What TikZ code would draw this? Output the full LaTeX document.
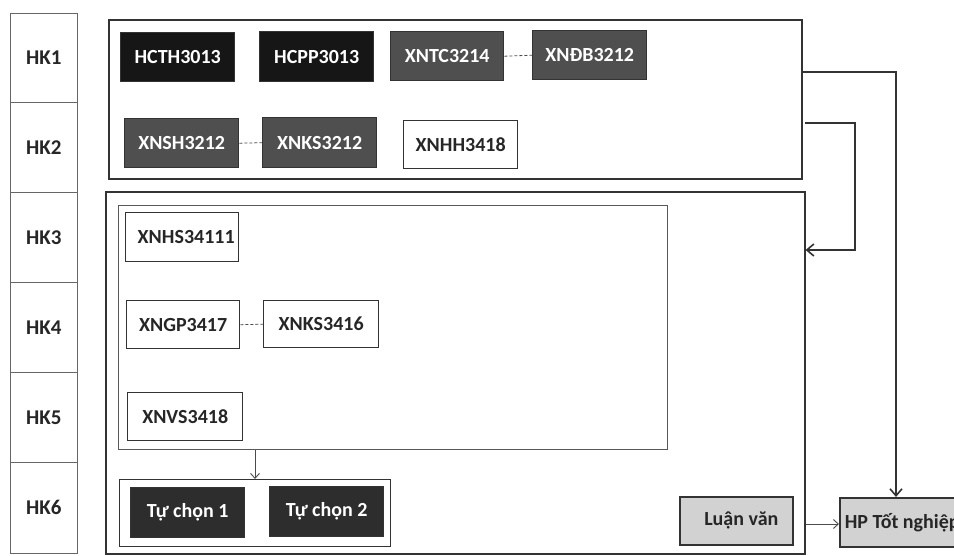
\documentclass[tikz,border=0pt]{standalone}
\usepackage{fontspec}
\setmainfont{Carlito}
\usetikzlibrary{arrows.meta}
\definecolor{inkc}{HTML}{262626}
\definecolor{blackbox}{HTML}{161616}
\definecolor{darkbox}{HTML}{4F4F4F}
\definecolor{lightbox}{HTML}{D2D2D2}
\definecolor{linec}{HTML}{333333}
\tikzset{
  base/.style={rectangle, anchor=north west, inner sep=0pt, font=\fontsize{20}{24}\selectfont\bfseries},
  hk/.style={base, draw=gray!80!black, line width=0.8pt, fill=white, text=inkc, minimum width=67pt, font=\fontsize{21}{24}\selectfont\bfseries},
  frame/.style={rectangle, anchor=north west, draw=linec, line width=1.6pt, inner sep=0pt},
  innerframe/.style={rectangle, anchor=north west, draw=gray!70!black, line width=1pt, inner sep=0pt},
  blk/.style={base, draw=linec, line width=1.4pt, fill=blackbox, text=white, minimum width=114pt, minimum height=49pt},
  drk/.style={base, draw=linec, line width=1.4pt, fill=darkbox, text=white, minimum width=114pt, minimum height=49pt},
  wht/.style={base, draw=linec, line width=1.4pt, fill=white, text=inkc, minimum width=114pt, minimum height=49pt},
  lgt/.style={base, draw=linec, line width=1.6pt, fill=lightbox, text=inkc, minimum height=49pt},
  dashlink/.style={draw=gray!60!black, line width=0.8pt, dash pattern=on 3pt off 2pt},
  conn/.style={draw=linec, line width=1.6pt},
  thin/.style={draw=gray!60!black, line width=0.9pt},
}
\begin{document}
\begin{tikzpicture}[x=1pt,y=-1pt]
\useasboundingbox (0,0) rectangle (954,556);
\clip (0,0) rectangle (954,556);
\fill[white] (0,0) rectangle (954,556);

% semester column
\node[hk, minimum height=89pt] (hk1) at (10,13) {HK1};
\node[hk, minimum height=90pt] (hk2) at (10,102) {HK2};
\node[hk, minimum height=90pt] (hk3) at (10,192) {HK3};
\node[hk, minimum height=90pt] (hk4) at (10,282) {HK4};
\node[hk, minimum height=90pt] (hk5) at (10,372) {HK5};
\node[hk, minimum height=91pt] (hk6) at (10,462) {HK6};

% frames
\node[frame, minimum width=693pt, minimum height=159pt] (top) at (108,19) {};
\node[frame, minimum width=699pt, minimum height=362pt] (low) at (105,191) {};
\node[innerframe, minimum width=549pt, minimum height=244pt] (inner) at (118,205) {};
\node[frame, line width=1.4pt, minimum width=271pt, minimum height=67pt] (tcbox) at (119,479) {};

% HK1 / HK2 courses
\node[blk] (hcth) at (120,32) {HCTH3013};
\node[blk, minimum height=50pt] (hcpp) at (259,31) {HCPP3013};
\node[drk, minimum width=113pt] (xntc) at (390,31) {XNTC3214};
\node[drk] (xndb) at (532,30) {XNĐB3212};
\node[drk] (xnsh) at (124,118) {XNSH3212};
\node[drk, minimum height=50pt] (xnks1) at (262,117) {XNKS3212};
\node[wht, minimum height=48pt] (xnhh) at (403,120) {XNHH3418};

% HK3-HK5 courses
\node[wht, minimum width=113pt] (xnhs) at (125,212) {\hspace*{8pt}XNHS34111};
\node[wht, minimum width=113pt, minimum height=48pt] (xngp) at (126,300) {XNGP3417};
\node[wht, minimum width=115pt, minimum height=47pt] (xnks2) at (263,300) {XNKS3416};
\node[wht, minimum width=115pt, minimum height=48pt] (xnvs) at (127,392) {XNVS3418};

% HK6 electives
\node[blk, fill=blackbox!90!white, minimum height=50pt] (tc1) at (130,487) {Tự chọn 1};
\node[blk, fill=blackbox!90!white, minimum height=50pt] (tc2) at (269,486) {Tự chọn 2};

% thesis / graduation
\node[lgt, minimum width=113pt, minimum height=48pt] (lv) at (679,496) {\hspace*{10pt}Luận văn};
\node[lgt, inner xsep=5pt] (hp) at (839,497) {HP Tốt nghiệp};

% dashed equivalences
\draw[dashlink] (xntc.east) -- (xndb.west);
\draw[dashlink] (xnsh.east) -- (xnks1.west);
\draw[dashlink] (xngp.east) -- (xnks2.west);

% connectors
\coordinate (k1) at (896,72);
\draw[conn, -{Straight Barb[length=7pt,width=12pt,line width=1.6pt]}] (top.east |- k1) -- (k1) -- (k1 |- hp.north);

\coordinate (s2) at (805,123);
\coordinate (k2) at (855,123);
\coordinate (k3) at (855,250);
\draw[conn, -{Straight Barb[length=7pt,width=12pt,line width=1.6pt]}] (s2) -- (k2) -- (k3) -- (low.east |- k3);

\coordinate (s3) at (0,524);
\draw[thin, -{Straight Barb[length=5pt,width=9pt]}] (low.east |- s3) -- (hp.west |- s3);

\coordinate (s4) at (255,0);
\draw[thin, -{Straight Barb[length=5pt,width=9pt]}] (inner.south -| s4) -- (tcbox.north -| s4);
\end{tikzpicture}
\end{document}
